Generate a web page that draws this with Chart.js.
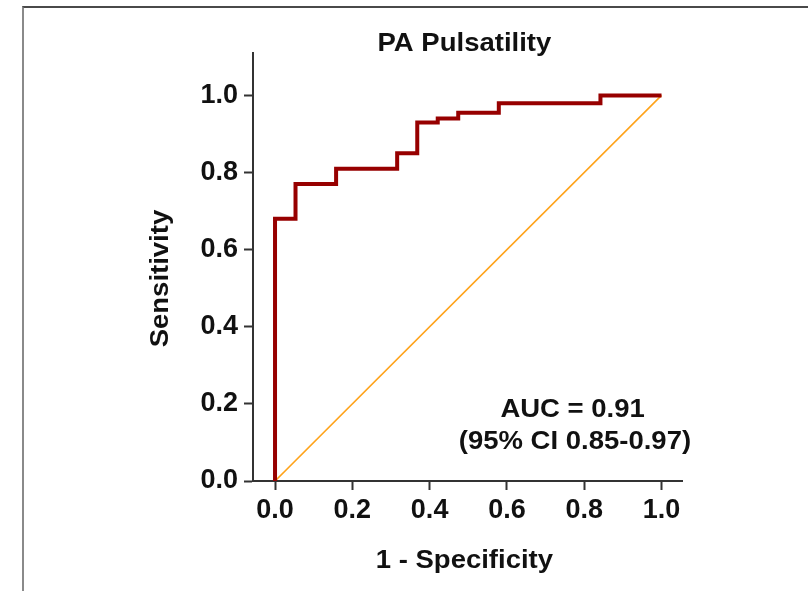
<!DOCTYPE html>
<html>
<head>
<meta charset="utf-8">
<script src="https://cdn.jsdelivr.net/npm/chart.js@4.4.1/dist/chart.umd.min.js"></script>
<style>
  html, body { margin: 0; padding: 0; background: #fff; }
  #wrap { position: relative; width: 808px; height: 591px; overflow: hidden; }
  #frame {
    position: absolute; left: 22px; top: 6px; right: -10px; bottom: -10px;
    border-top: 2px solid #4a4a4a; border-left: 2px solid #8a8a8a;
  }
  canvas { position: absolute; left: 0; top: 0; }
</style>
</head>
<body>
<div id="wrap">
  <div id="frame"></div>
  <canvas id="roc" width="808" height="591"></canvas>
</div>
<script>
// ROC curve (step points, 1 - specificity vs sensitivity)
const fpr = [0, 0, 0.053, 0.158, 0.316, 0.368, 0.421, 0.474, 0.579, 0.842, 1.0];
const tpr = [0, 0.68, 0.77, 0.81, 0.85, 0.93, 0.94, 0.955, 0.98, 1.0, 1.0];

// reference (chance) line
const refX = [0, 1];
const refY = [0, 1];

const xTicks = [0, 0.2, 0.4, 0.6, 0.8, 1.0];
const yTicks = [0, 0.2, 0.4, 0.6, 0.8, 1.0];

const titleText = "PA Pulsatility";
const xTitle = "1 - Specificity";
const yTitle = "Sensitivity";
const aucLines = ["AUC = 0.91", "(95% CI 0.85-0.97)"];

const FONT = "'Liberation Sans', Arial, Helvetica, sans-serif";
const AXIS = "#333";
const STRETCH = 1.1; // the original lettering is a bit wider than Arial

function wideText(ctx, txt, x, y) {
  ctx.save();
  ctx.translate(x, y);
  ctx.scale(STRETCH, 1);
  ctx.fillText(txt, 0, 0);
  ctx.restore();
}

// titles + AUC note, placed via the scales
const textPlugin = {
  id: "rocText",
  afterDraw(chart) {
    const { ctx, chartArea } = chart;
    const x = chart.scales.x, y = chart.scales.y;
    ctx.save();
    ctx.fillStyle = "#111";
    ctx.font = `bold 25px ${FONT}`;
    ctx.textAlign = "center";
    ctx.textBaseline = "alphabetic";

    wideText(ctx, titleText, x.getPixelForValue(0.49), chartArea.top - 2);
    wideText(ctx, xTitle, x.getPixelForValue(0.49), chartArea.bottom + 87);

    wideText(ctx, aucLines[0], x.getPixelForValue(0.77), y.getPixelForValue(0.167));
    wideText(ctx, aucLines[1], x.getPixelForValue(0.776), y.getPixelForValue(0.083));

    ctx.translate(chartArea.left - 85, y.getPixelForValue(0.525));
    ctx.rotate(-Math.PI / 2);
    wideText(ctx, yTitle, 0, 0);
    ctx.restore();
  }
};

new Chart(document.getElementById("roc"), {
  type: "line",
  data: {
    datasets: [
      {
        label: "ROC",
        data: fpr.map((v, i) => ({ x: v, y: tpr[i] })),
        borderColor: "#970000",
        borderWidth: 4,
        stepped: "before", // horizontal first, then up
        pointRadius: 0,
        borderJoinStyle: "miter",
        borderCapStyle: "butt",
        fill: false,
      },
      {
        label: "Reference",
        data: refX.map((v, i) => ({ x: v, y: refY[i] })),
        borderColor: "#ffa31a",
        borderWidth: 1.6,
        pointRadius: 0,
        fill: false,
      },
    ],
  },
  options: {
    responsive: false,
    animation: false,
    layout: { padding: { left: 0, right: 126, top: 53, bottom: 0 } },
    plugins: {
      legend: { display: false },
      tooltip: { enabled: false },
    },
    scales: {
      x: {
        type: "linear",
        min: -0.057,
        max: 1.053,
        afterFit: s => { s.height = 110; },
        afterBuildTicks: s => { s.ticks = xTicks.map(v => ({ value: v })); },
        grid: { drawOnChartArea: false, drawTicks: true, tickLength: 9, tickWidth: 2, tickColor: AXIS },
        border: { display: true, color: AXIS, width: 2 },
        ticks: {
          padding: 4,
          color: "#111",
          maxRotation: 0,
          font: { family: FONT, size: 27, weight: "bold" },
          callback: v => v.toFixed(1),
        },
      },
      y: {
        type: "linear",
        min: 0,
        max: 1.11,
        afterFit: s => { s.width = 253; },
        afterBuildTicks: s => { s.ticks = yTicks.map(v => ({ value: v })); },
        grid: { drawOnChartArea: false, drawTicks: true, tickLength: 9, tickWidth: 2, tickColor: AXIS },
        border: { display: true, color: AXIS, width: 2 },
        ticks: {
          padding: 6,
          color: "#111",
          font: { family: FONT, size: 27, weight: "bold" },
          callback: v => v.toFixed(1),
        },
      },
    },
  },
  plugins: [textPlugin],
});
</script>
</body>
</html>
